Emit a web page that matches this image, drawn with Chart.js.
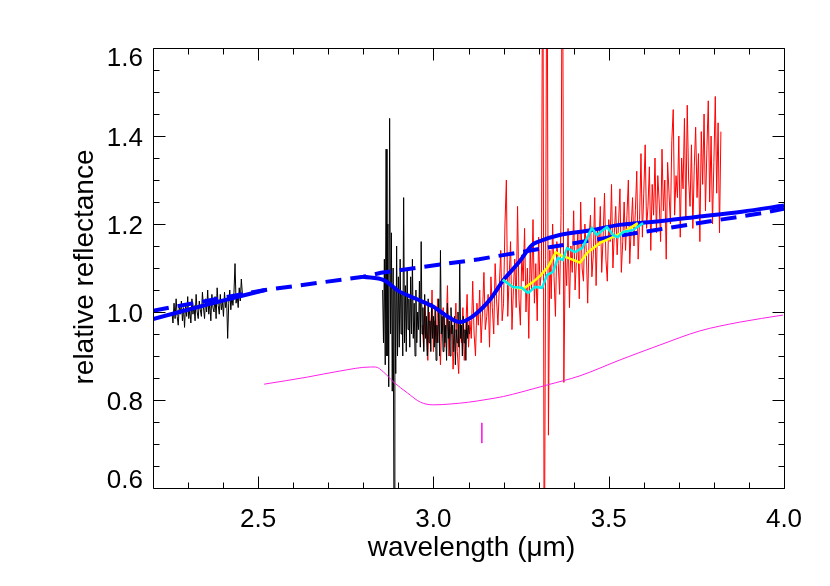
<!DOCTYPE html>
<html>
<head>
<meta charset="utf-8">
<script src="https://cdn.jsdelivr.net/npm/chart.js@4.4.1/dist/chart.umd.min.js"></script>
<style>
  html, body { margin: 0; padding: 0; background: #fff; }
  #wrap { width: 830px; height: 586px; }
</style>
</head>
<body>
<div id="wrap"><canvas id="c" width="830" height="586"></canvas></div>
<script>
// ---------------- data ----------------
const xTitle = 'wavelength (\u03bcm)';
const yTitle = 'relative reflectance';
const xMajorTicks = [2.5, 3.0, 3.5, 4.0];
const xMinorTicks = [2.3, 2.4, 2.6, 2.7, 2.8, 2.9, 3.1, 3.2, 3.3, 3.4, 3.6, 3.7, 3.8, 3.9];
const yMajorTicks = [0.6, 0.8, 1.0, 1.2, 1.4, 1.6];
const yMinorTicks = [0.65, 0.7, 0.75, 0.85, 0.9, 0.95, 1.05, 1.1, 1.15, 1.25, 1.3, 1.35, 1.45, 1.5, 1.55];

// black spectrum, short-wavelength part (sampling grid start/step)
const black1Start = 2.254, black1Step = 0.003;
const black1Y = [
1.000, 0.975, 1.020, 0.985, 1.030, 0.990, 0.970, 1.015, 0.995, 1.025,
0.980, 1.010, 0.965, 1.020, 0.990, 1.035, 0.985, 1.005, 0.975, 1.030,
0.995, 1.015, 0.980, 1.040, 1.000, 0.985, 1.025, 1.005, 0.990, 1.045,
1.010, 0.985, 1.030, 1.000, 1.050, 0.995, 1.020, 0.980, 1.040, 1.010,
1.000, 1.035, 0.985, 1.055, 1.015, 0.995, 1.040, 1.005, 1.025, 0.990,
1.045, 1.010, 1.030, 0.940, 1.020, 1.050, 1.005, 1.035, 1.015, 1.045,
1.110, 1.020, 1.040, 1.010, 1.055, 1.025, 1.075, 1.040
];

// black spectrum, 2.86-3.10 um part
const black2Start = 2.855, black2Step = 0.0025;
const black2Y = [
1.05, 0.93, 1.12, 0.88, 1.37, 0.90, 1.20, 0.83, 1.44, 0.95,
1.18, 0.82, 1.10, 0.50, 1.05, 0.86, 1.15, 0.90, 1.08, 0.92,
1.12, 0.95, 1.04, 0.90, 1.26, 0.93, 1.06, 0.91, 1.10, 0.96,
1.03, 0.92, 1.08, 0.95, 1.12, 0.94, 1.02, 0.90, 1.05, 0.93,
1.00, 0.96, 1.07, 0.92, 1.16, 0.95, 1.01, 0.91, 1.04, 0.94,
0.99, 0.90, 1.03, 0.93, 0.98, 0.91, 1.02, 0.94, 0.99, 0.92,
1.01, 0.89, 0.97, 0.93, 1.03, 0.90, 1.14, 0.95, 0.99, 0.91,
1.00, 0.93, 0.97, 0.89, 1.02, 0.94, 0.98, 0.90, 1.01, 0.95,
0.97, 0.91, 0.99, 0.88, 0.96, 0.93, 1.00, 0.92, 1.11, 0.94,
0.97, 0.90, 0.99, 0.93, 0.96, 0.89, 0.98, 0.94, 0.97, 0.95
];

// red spectrum 2.97-3.82 um
const redStart = 2.968, redStep = 0.004;
const redY = [
0.97, 0.92, 1.02, 0.95, 0.89, 1.00, 0.94, 1.05, 0.91, 0.98,
0.93, 1.03, 0.96, 0.88, 0.99, 1.01, 0.92, 0.96, 1.06, 0.90,
0.95, 0.99, 0.87, 0.94, 1.02, 0.91, 0.86, 0.97, 0.93, 1.01,
0.89, 0.96, 1.04, 0.92, 0.98, 0.94, 1.07, 0.95, 0.90, 1.02,
0.97, 1.05, 0.93, 1.00, 1.09, 0.96, 0.99, 1.04, 0.92, 1.08,
1.01, 0.95, 1.11, 1.03, 0.97, 1.06, 1.14, 0.98, 1.02, 1.20,
1.30, 0.99, 1.08, 1.16, 0.96, 1.05, 1.12, 1.01, 1.24, 1.03,
0.97, 1.13, 1.07, 1.19, 1.00, 1.10, 0.94, 1.15, 1.05, 1.21,
1.02, 1.11, 0.98, 1.17, 1.06, 1.09, 2.00, 0.30, 1.12, 2.00,
0.72, 1.14, 1.03, 1.20, 1.08, 0.99, 1.16, 1.11, 1.04, 1.22,
2.00, 0.84, 1.13, 1.06, 1.19, 1.01, 1.15, 1.09, 1.23, 1.05,
1.12, 1.18, 1.03, 1.25, 1.10, 1.07, 1.20, 1.14, 1.02, 1.17,
1.22, 1.08, 1.13, 1.26, 1.06, 1.19, 1.15, 1.24, 1.09, 1.17,
1.27, 1.12, 1.07, 1.21, 1.16, 1.29, 1.10, 1.18, 1.24, 1.13,
1.20, 1.28, 1.09, 1.16, 1.25, 1.14, 1.22, 1.30, 1.11, 1.19,
1.26, 1.15, 1.23, 1.32, 1.12, 1.21, 1.36, 1.17, 1.27, 1.38,
1.19, 1.24, 1.33, 1.14, 1.29, 1.22, 1.35, 1.18, 1.31, 1.25,
1.16, 1.37, 1.23, 1.30, 1.12, 1.34, 1.27, 1.20, 1.39, 1.46,
1.22, 1.31, 1.26, 1.40, 1.17, 1.35, 1.28, 1.44, 1.21, 1.47,
1.30, 1.24, 1.38, 1.19, 1.33, 1.42, 1.26, 1.36, 1.16, 1.41,
1.29, 1.45, 1.23, 1.37, 1.48, 1.25, 1.40, 1.20, 1.34, 1.49,
1.27, 1.43, 1.18, 1.41
];

// blue solid model (two pieces)
const modelAX = [2.20, 2.36, 2.52];
const modelAY = [0.984, 1.018, 1.050];
const modelBX = [2.80, 2.86, 2.90, 2.95, 3.00, 3.04, 3.075, 3.11, 3.16, 3.20, 3.245, 3.281, 3.30, 3.36, 3.45, 3.53, 3.63, 3.75, 3.88, 4.00];
const modelBY = [1.080, 1.072, 1.048, 1.030, 1.012, 0.990, 0.977, 0.989, 1.027, 1.073, 1.114, 1.152, 1.160, 1.175, 1.186, 1.198, 1.205, 1.216, 1.228, 1.242];

// blue dashed continuum
const contX = [2.20, 2.52, 2.80, 2.85, 3.13, 3.42, 3.63, 3.78, 3.94, 4.00];
const contY = [1.003, 1.050, 1.080, 1.089, 1.120, 1.159, 1.186, 1.205, 1.225, 1.235];

// yellow
const yellowX = [3.198, 3.227, 3.255, 3.284, 3.304, 3.327, 3.349, 3.367, 3.384, 3.418, 3.438, 3.475, 3.512, 3.552, 3.583];
const yellowY = [1.073, 1.057, 1.052, 1.068, 1.082, 1.102, 1.136, 1.127, 1.123, 1.112, 1.134, 1.157, 1.170, 1.186, 1.202];

// cyan
const cyanX = [3.198, 3.227, 3.252, 3.270, 3.290, 3.310, 3.324, 3.341, 3.355, 3.369, 3.381, 3.404, 3.424, 3.438, 3.452, 3.466, 3.495, 3.512, 3.526, 3.541, 3.569, 3.598];
const cyanY = [1.073, 1.057, 1.055, 1.043, 1.057, 1.055, 1.084, 1.091, 1.123, 1.118, 1.145, 1.136, 1.145, 1.168, 1.191, 1.175, 1.193, 1.175, 1.170, 1.182, 1.186, 1.202];

// magenta
const magentaX = [2.517, 2.640, 2.734, 2.820, 2.835, 2.857, 2.886, 2.926, 2.963, 3.000, 3.050, 3.100, 3.150, 3.200, 3.250, 3.324, 3.418, 3.532, 3.646, 3.760, 3.874, 3.997];
const magentaY = [0.836, 0.852, 0.866, 0.875, 0.875, 0.864, 0.841, 0.816, 0.795, 0.789, 0.791, 0.795, 0.801, 0.808, 0.818, 0.834, 0.855, 0.891, 0.925, 0.957, 0.977, 0.993];

// magenta marker
const markX = [3.138, 3.138];
const markY = [0.748, 0.702];

// ---------------- helpers ----------------
const pts = (xs, ys) => xs.map((x, i) => ({ x, y: ys[i] }));
const grid = (start, step, ys) => ys.map((y, i) => ({ x: +(start + i * step).toFixed(4), y }));

const FONT = '"Liberation Sans", Arial, Helvetica, sans-serif';

const idlAxes = {
  id: 'idlAxes',
  afterDraw(chart) {
    const { ctx, chartArea: a, scales } = chart;
    const xs = scales.x, ys = scales.y;
    ctx.save();
    ctx.strokeStyle = '#000';
    ctx.lineWidth = 1;
    const L = a.left + 0.5, R = Math.round(a.right) + 0.5, T = a.top + 0.5, B = Math.round(a.bottom) + 0.5;
    ctx.beginPath();
    ctx.rect(L, T, R - L, B - T);
    ctx.stroke();
    const seg = (x1, y1, x2, y2) => { ctx.beginPath(); ctx.moveTo(x1, y1); ctx.lineTo(x2, y2); ctx.stroke(); };
    const xt = (v, len) => { const p = Math.round(xs.getPixelForValue(v)) + 0.5; seg(p, B, p, B - len); seg(p, T, p, T + len); };
    const yt = (v, len) => { const p = Math.round(ys.getPixelForValue(v)) + 0.5; seg(L, p, L + len, p); seg(R, p, R - len, p); };
    xMinorTicks.forEach(v => xt(v, 6));
    xMajorTicks.forEach(v => xt(v, 12));
    yMinorTicks.forEach(v => yt(v, 6));
    yMajorTicks.forEach(v => yt(v, 12));

    ctx.fillStyle = '#000';
    ctx.font = '26px ' + FONT;
    ctx.textAlign = 'center';
    ctx.textBaseline = 'alphabetic';
    xMajorTicks.forEach(v => ctx.fillText(v.toFixed(1), xs.getPixelForValue(v), B + 38));
    ctx.textAlign = 'right';
    yMajorTicks.forEach((v, i) => {
      let p = ys.getPixelForValue(v) + 9.5;
      if (i === yMajorTicks.length - 1) p = a.top + 18;
      if (i === 0) p = a.bottom;
      ctx.fillText(v.toFixed(1), a.left - 10, p);
    });

    ctx.font = '28px ' + FONT;
    ctx.textAlign = 'center';
    ctx.fillText(xTitle, (a.left + a.right) / 2 + 3, 556);
    ctx.save();
    ctx.translate(93, (a.top + a.bottom) / 2 - 1);
    ctx.rotate(-Math.PI / 2);
    ctx.fillText(yTitle, 0, 0);
    ctx.restore();
    ctx.restore();
  }
};

const thin = (data, color) => ({ data, borderColor: color, borderWidth: 1, showLine: true, pointRadius: 0, fill: false, tension: 0 });

new Chart(document.getElementById('c'), {
  type: 'scatter',
  data: {
    datasets: [
      { data: pts(cyanX, cyanY), borderColor: '#00f0f0', borderWidth: 2.5, showLine: true, pointRadius: 0, tension: 0 },
      { data: pts(yellowX, yellowY), borderColor: '#ffff00', borderWidth: 2.5, showLine: true, pointRadius: 0, tension: 0 },
      { data: pts(modelAX, modelAY), borderColor: '#0000ff', borderWidth: 4, showLine: true, pointRadius: 0, tension: 0.3, borderCapStyle: 'butt' },
      { data: pts(modelBX, modelBY), borderColor: '#0000ff', borderWidth: 4, showLine: true, pointRadius: 0, cubicInterpolationMode: 'monotone', borderJoinStyle: 'round' },
      { data: pts(contX, contY), borderColor: '#0000ff', borderWidth: 4, showLine: true, pointRadius: 0, tension: 0, borderDash: [16, 9] },
      thin(pts(markX, markY), '#ff20e8'),
      { data: pts(magentaX, magentaY), borderColor: '#ff20e8', borderWidth: 1, showLine: true, pointRadius: 0, cubicInterpolationMode: 'monotone' },
      thin(grid(black2Start, black2Step, black2Y), '#000000'),
      thin(grid(redStart, redStep, redY), '#ff0000'),
      thin(grid(black1Start, black1Step, black1Y), '#000000')
    ]
  },
  options: {
    responsive: false,
    animation: false,
    events: [],
    layout: { padding: { left: 153, right: 46, top: 48, bottom: 98 } },
    plugins: { legend: { display: false }, tooltip: { enabled: false } },
    scales: {
      x: { type: 'linear', min: 2.2, max: 4.0, display: false },
      y: { type: 'linear', min: 0.6, max: 1.6, display: false }
    }
  },
  plugins: [idlAxes]
});
</script>
</body>
</html>
